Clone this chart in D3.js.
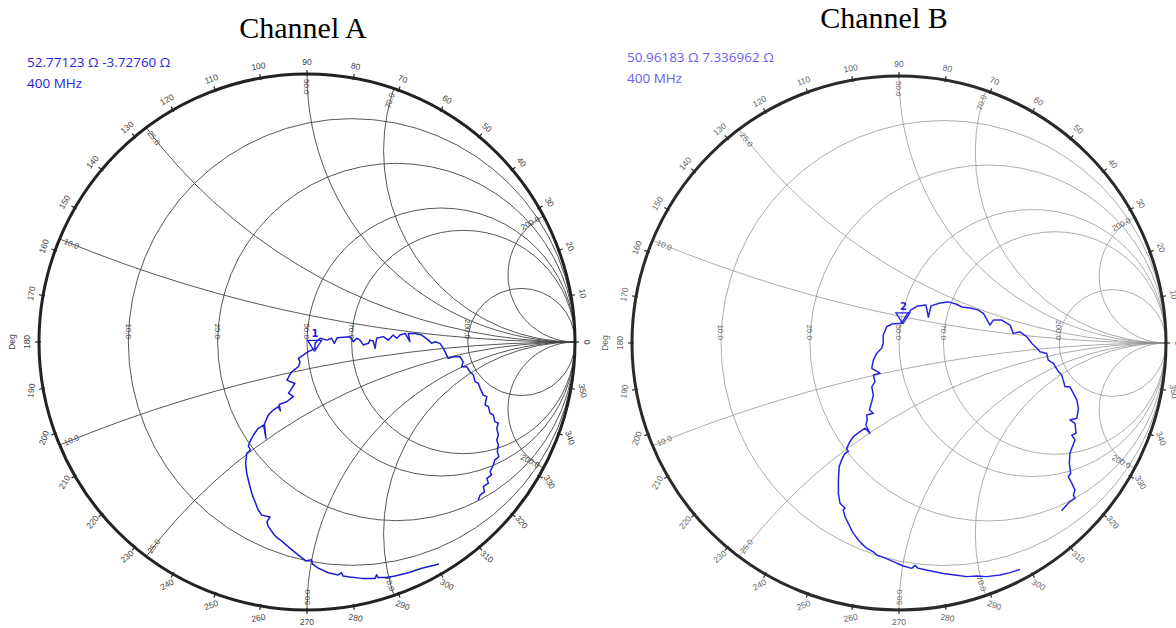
<!DOCTYPE html>
<html>
<head>
<meta charset="utf-8">
<script src="https://cdn.jsdelivr.net/npm/d3@7"></script>
<style>
  body { margin: 0; background: #fff; }
  svg { display: block; }
</style>
</head>
<body>
<svg id="chart" width="1176" height="628"></svg>
<script>
// Smith chart grid, ohms (Z0 = 50)
const z0 = 50;
const resistances = [10, 25, 50, 70, 200];
const reactances = [10, 25, 50, 70, 200];
const degLabels = [0, 10, 20, 30, 40, 50, 60, 70, 80, 90, 100, 110, 120, 130, 140, 150, 160, 170,
                   180, 190, 200, 210, 220, 230, 240, 250, 260, 270, 280, 290, 300, 310, 320, 330, 340, 350];

// marker readouts at 400 MHz
const markerA = { R: 52.77123, X: -3.72760, freq: "400 MHz", id: "1" };
const markerB = { R: 50.96183, X: 7.336962, freq: "400 MHz", id: "2" };

const traceA_re = [0.493, 0.428, 0.378, 0.328, 0.295, 0.265, 0.260, 0.254, 0.205, 0.160, 0.134, 0.129, 0.117, 0.079, 0.042, 0.020,
  0.017, -0.004, -0.032, -0.063, -0.094, -0.109, -0.122, -0.144, -0.150, -0.138, -0.169, -0.182, -0.194, -0.206, -0.216, -0.225,
  -0.229, -0.225, -0.211, -0.219, -0.213, -0.200, -0.182, -0.162, -0.153, -0.159, -0.144, -0.126, -0.107, -0.099, -0.104, -0.076,
  -0.051, -0.069, -0.057, -0.045, -0.063, -0.075, -0.057, -0.032, -0.026, -0.032, -0.014, 0.005, 0.030, 0.030, 0.049, 0.074,
  0.092, 0.102, 0.113, 0.160, 0.173, 0.185, 0.198, 0.210, 0.229, 0.235, 0.247, 0.254, 0.260, 0.285, 0.303, 0.322, 0.335, 0.347,
  0.366, 0.384, 0.378, 0.403, 0.428, 0.453, 0.465, 0.478, 0.496, 0.509, 0.521, 0.527, 0.546, 0.571, 0.583, 0.577, 0.596, 0.608,
  0.621, 0.627, 0.639, 0.646, 0.658, 0.671, 0.664, 0.677, 0.683, 0.695, 0.701, 0.714, 0.708, 0.714, 0.708, 0.714, 0.710, 0.716,
  0.701, 0.695, 0.683, 0.689, 0.671, 0.677, 0.658, 0.662, 0.646, 0.639];
const traceA_im = [-0.828, -0.844, -0.861, -0.873, -0.879, -0.879, -0.868, -0.882, -0.882, -0.877, -0.873, -0.860, -0.869, -0.861, -0.844, -0.828,
  -0.812, -0.817, -0.795, -0.770, -0.743, -0.732, -0.720, -0.689, -0.671, -0.653, -0.646, -0.627, -0.596, -0.565, -0.527, -0.490,
  -0.453, -0.415, -0.403, -0.388, -0.372, -0.347, -0.322, -0.310, -0.360, -0.306, -0.272, -0.254, -0.241, -0.257, -0.233, -0.223,
  -0.204, -0.191, -0.173, -0.154, -0.148, -0.142, -0.111, -0.092, -0.074, -0.061, -0.049, -0.036, -0.024, -0.005, 0.014, 0.007,
  0.014, -0.005, 0.016, 0.020, 0.001, 0.014, 0.007, -0.011, -0.005, 0.007, 0.004, -0.024, 0.014, 0.020, 0.007, 0.026, 0.014, 0.026,
  0.032, 0.001, 0.032, 0.032, 0.026, 0.007, -0.005, 0.001, -0.005, -0.024, -0.049, -0.061, -0.055, -0.055, -0.074, -0.092, -0.092, -0.111,
  -0.123, -0.148, -0.154, -0.173, -0.198, -0.204, -0.235, -0.241, -0.266, -0.272, -0.297, -0.303, -0.322, -0.347, -0.366, -0.384, -0.409, -0.429,
  -0.440, -0.459, -0.484, -0.496, -0.509, -0.527, -0.540, -0.559, -0.571, -0.590];

const traceB_re = [0.453, 0.416, 0.378, 0.328, 0.291, 0.254, 0.216, 0.166, 0.116, 0.072, 0.060, 0.048, 0.016, -0.021, -0.059, -0.084,
  -0.096, -0.121, -0.134, -0.152, -0.171, -0.181, -0.190, -0.202, -0.209, -0.202, -0.221, -0.227, -0.227, -0.224, -0.215, -0.202,
  -0.190, -0.196, -0.184, -0.171, -0.146, -0.127, -0.109, -0.124, -0.119, -0.121, -0.096, -0.111, -0.102, -0.096, -0.102, -0.090,
  -0.096, -0.071, -0.102, -0.096, -0.084, -0.065, -0.059, -0.059, -0.046, -0.027, 0.010, 0.026, 0.045, 0.071, 0.101, 0.110,
  0.120, 0.154, 0.184, 0.213, 0.236, 0.266, 0.296, 0.316, 0.341, 0.353, 0.385, 0.416, 0.428, 0.453, 0.478, 0.497, 0.516, 0.528,
  0.553, 0.559, 0.578, 0.597, 0.609, 0.615, 0.622, 0.640, 0.653, 0.666, 0.672, 0.666, 0.640, 0.659, 0.663, 0.647, 0.659, 0.640,
  0.638, 0.643, 0.634, 0.647, 0.659, 0.653, 0.659, 0.640, 0.628, 0.609];
const traceB_im = [-0.848, -0.860, -0.869, -0.875, -0.873, -0.875, -0.870, -0.863, -0.853, -0.844, -0.833, -0.844, -0.835, -0.819, -0.803, -0.794,
  -0.782, -0.769, -0.757, -0.738, -0.713, -0.694, -0.675, -0.651, -0.625, -0.619, -0.600, -0.563, -0.513, -0.463, -0.438, -0.413,
  -0.407, -0.394, -0.370, -0.351, -0.332, -0.319, -0.338, -0.307, -0.288, -0.270, -0.263, -0.251, -0.220, -0.195, -0.164, -0.145,
  -0.120, -0.113, -0.095, -0.064, -0.039, -0.020, -0.001, 0.030, 0.061, 0.071, 0.074, 0.101, 0.124, 0.139, 0.142, 0.097,
  0.139, 0.150, 0.154, 0.146, 0.135, 0.131, 0.124, 0.111, 0.067, 0.086, 0.086, 0.067, 0.036, 0.042, 0.024, -0.001, -0.020, -0.033,
  -0.039, -0.064, -0.076, -0.107, -0.120, -0.139, -0.164, -0.164, -0.188, -0.213, -0.247, -0.282, -0.288, -0.301, -0.338, -0.345, -0.363, -0.413,
  -0.451, -0.488, -0.501, -0.525, -0.551, -0.569, -0.582, -0.594, -0.607, -0.628];

const svg = d3.select("#chart");
const fmt = d3.format(".1f");

function toGamma(R, X) {
  const zr = R / z0, zi = X / z0;
  const d2 = (zr + 1) * (zr + 1) + zi * zi;
  return [((zr - 1) * (zr + 1) + zi * zi) / d2, (zi * (zr + 1) - (zr - 1) * zi) / d2];
}

function smith(o) {
  const g = svg.append("g");
  const x = d3.scaleLinear().domain([-1, 1]).range([o.cx - o.r, o.cx + o.r]);
  const y = d3.scaleLinear().domain([-1, 1]).range([o.cy + o.r, o.cy - o.r]);
  const k = o.r; // pixels per unit of gamma

  g.append("clipPath").attr("id", o.key + "-clip")
    .append("circle").attr("cx", x(0)).attr("cy", y(0)).attr("r", k);

  const grid = g.append("g").attr("clip-path", `url(#${o.key}-clip)`)
    .attr("fill", "none").attr("stroke", o.gridColor).attr("stroke-width", o.gridWidth);

  // constant resistance circles
  grid.selectAll(".res").data(resistances).enter().append("circle")
    .attr("class", "res")
    .attr("cx", d => x((d / z0) / (1 + d / z0)))
    .attr("cy", y(0))
    .attr("r", d => k / (1 + d / z0));

  // constant reactance arcs, both signs
  const xs = reactances.flatMap(d => [d, -d]);
  grid.selectAll(".rea").data(xs).enter().append("circle")
    .attr("class", "rea")
    .attr("cx", x(1))
    .attr("cy", d => y(z0 / d))
    .attr("r", d => k * z0 / Math.abs(d));

  // outer rim
  g.append("circle").attr("cx", x(0)).attr("cy", y(0)).attr("r", k)
    .attr("fill", "none").attr("stroke", o.rimColor).attr("stroke-width", 3);

  // degree ticks and labels
  const rad = d => d * Math.PI / 180;
  g.selectAll(".tick").data(degLabels).enter().append("line")
    .attr("x1", d => x(0) + (k - 2) * Math.cos(rad(d)))
    .attr("y1", d => y(0) - (k - 2) * Math.sin(rad(d)))
    .attr("x2", d => x(0) + (k + 4) * Math.cos(rad(d)))
    .attr("y2", d => y(0) - (k + 4) * Math.sin(rad(d)))
    .attr("stroke", o.rimColor).attr("stroke-width", 1.2);

  g.selectAll(".deg").data(degLabels).enter().append("text")
    .attr("transform", d => {
      const px = x(0) + (k + 12) * Math.cos(rad(d));
      const py = y(0) - (k + 12) * Math.sin(rad(d));
      const rot = d <= 180 ? 90 - d : d - 270;
      return `translate(${px},${py}) rotate(${rot})`;
    })
    .attr("text-anchor", "middle").attr("dy", "0.35em")
    .attr("font-family", "Liberation Sans, Arial, sans-serif").attr("font-size", 8.5)
    .attr("fill", o.labelColor)
    .text(d => d);

  g.append("text")
    .attr("transform", `translate(${x(0) - k - 27},${y(0)}) rotate(-90)`)
    .attr("text-anchor", "middle").attr("dy", "0.35em")
    .attr("font-family", "Liberation Sans, Arial, sans-serif").attr("font-size", 8.5)
    .attr("fill", o.labelColor).text("Deg");

  // resistance labels on the real axis
  g.selectAll(".rlab").data(resistances).enter().append("text")
    .attr("transform", d => `translate(${x((d / z0 - 1) / (d / z0 + 1))},${y(0) - 3}) rotate(90)`)
    .attr("text-anchor", "end").attr("dy", "0.35em")
    .attr("font-family", "Liberation Sans, Arial, sans-serif").attr("font-size", 8)
    .attr("fill", o.labelColor)
    .text(d => fmt(d));

  // reactance labels at the rim, along each arc
  g.selectAll(".xlab").data(xs).enter().append("text")
    .each(function(d) {
      const xn = d / z0;
      const P = [(xn * xn - 1) / (xn * xn + 1), 2 * xn / (xn * xn + 1)];
      const C = [1, 1 / xn];
      let t = [-(P[1] - C[1]), P[0] - C[0]];
      if (t[0] * P[0] + t[1] * P[1] > 0) t = [-t[0], -t[1]];
      const len = Math.hypot(t[0], t[1]);
      const u = [t[0] / len, -t[1] / len]; // screen direction, inward
      const px = x(P[0]) + u[0] * 5, py = y(P[1]) + u[1] * 5;
      let ang = Math.atan2(u[1], u[0]) * 180 / Math.PI;
      let anchor = "start";
      if (u[0] < -1e-6) { ang += 180; anchor = "end"; }
      d3.select(this)
        .attr("transform", `translate(${px},${py}) rotate(${ang})`)
        .attr("text-anchor", anchor);
    })
    .attr("dy", "0.35em")
    .attr("font-family", "Liberation Sans, Arial, sans-serif").attr("font-size", 8)
    .attr("fill", o.labelColor)
    .text(d => fmt(Math.abs(d)));

  // measured trace
  const pts = o.re.map((v, i) => [v, o.im[i]]);
  g.append("path").datum(pts)
    .attr("fill", "none").attr("stroke", o.traceColor).attr("stroke-width", 1.5)
    .attr("stroke-linejoin", "round")
    .attr("d", d3.line().x(d => x(d[0])).y(d => y(d[1])));

  // marker
  const m = toGamma(o.marker.R, o.marker.X);
  const mx = x(m[0]), my = y(m[1]);
  g.append("path")
    .attr("d", d3.line()([[mx, my], [mx - 7, my - 11], [mx + 7, my - 11], [mx, my]]))
    .attr("fill", "none").attr("stroke", o.traceColor).attr("stroke-width", 1.3);
  g.append("text").attr("x", mx - 3).attr("y", my - 14)
    .attr("font-family", "DejaVu Sans, sans-serif").attr("font-weight", "bold").attr("font-size", 10)
    .attr("fill", o.traceColor).text(o.marker.id);

  // readout
  const ro = g.append("text").attr("font-family", "Open Sans, sans-serif").attr("font-size", 13.5)
    .attr("fill", o.readColor);
  ro.append("tspan").attr("x", o.readX).attr("y", o.readY)
    .text(`${o.marker.R.toFixed(o.decR)} Ω ${o.marker.X.toFixed(o.decX)} Ω`);
  ro.append("tspan").attr("x", o.readX).attr("y", o.readY + 21).text(o.marker.freq);

  // title
  g.append("text").attr("x", o.titleX).attr("y", o.titleY).attr("text-anchor", "middle")
    .attr("font-family", "Liberation Serif, Times New Roman, serif").attr("font-size", 30)
    .attr("fill", "#000").text(o.title);
}

smith({ key: "a", cx: 307, cy: 342, r: 268, title: "Channel A", titleX: 303, titleY: 38,
  gridColor: "#444", gridWidth: 0.9, rimColor: "#222", labelColor: "#444",
  traceColor: "#1c1cd4", readColor: "#2626d8", readX: 27, readY: 67, decR: 5, decX: 5,
  re: traceA_re, im: traceA_im, marker: markerA });

smith({ key: "b", cx: 899, cy: 343, r: 267, title: "Channel B", titleX: 884, titleY: 28,
  gridColor: "#8a8a8a", gridWidth: 0.7, rimColor: "#2a2a2a", labelColor: "#666",
  traceColor: "#2424e0", readColor: "#6a5cf0", readX: 627, readY: 62, decR: 5, decX: 6,
  re: traceB_re, im: traceB_im, marker: markerB });
</script>
</body>
</html>
